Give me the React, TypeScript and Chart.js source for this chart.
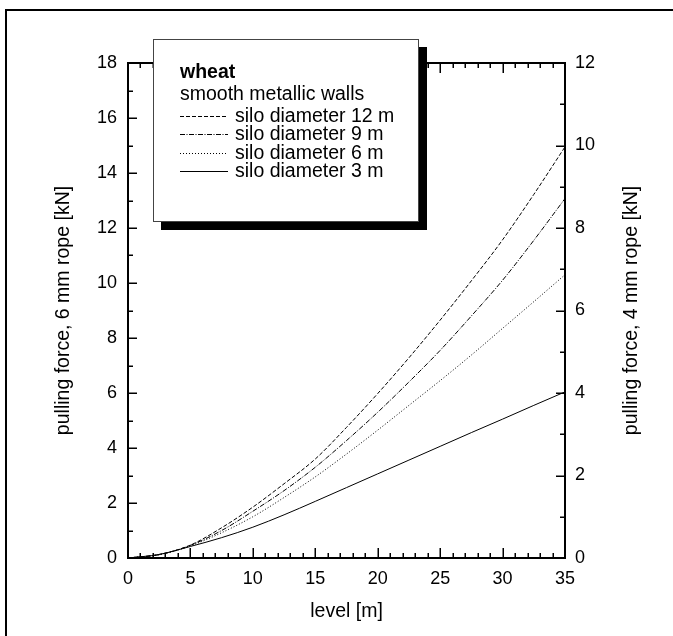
import React, { useEffect, useRef } from "react";
import { Chart, registerables } from "chart.js";

Chart.register(...registerables);

// ---- data ----
const levels = [0, 2.5, 5, 7.5, 10, 12.5, 15, 17.5, 20, 22.5, 25, 27.5, 30, 32.5, 35];
const silo12 = [0, 0.13, 0.47, 1.1, 1.85, 2.7, 3.6, 4.75, 5.98, 7.28, 8.65, 10.08, 11.57, 13.22, 14.95];
const silo9 = [0, 0.12, 0.46, 1.0, 1.7, 2.45, 3.3, 4.27, 5.3, 6.4, 7.55, 8.8, 10.1, 11.55, 13.07];
const silo6 = [0, 0.12, 0.44, 0.92, 1.5, 2.2, 2.95, 3.78, 4.65, 5.55, 6.45, 7.38, 8.35, 9.32, 10.3];
const silo3 = [0, 0.13, 0.42, 0.74, 1.12, 1.57, 2.06, 2.56, 3.06, 3.56, 4.06, 4.56, 5.05, 5.55, 6.04];

const seriesLabels = ["silo diameter 12 m", "silo diameter 9 m", "silo diameter 6 m", "silo diameter 3 m"];
const seriesValues = [silo12, silo9, silo6, silo3];
const seriesDash = [[4, 2], [5, 1.5, 1, 1.5], [1, 2], []];

const legendTitle = "wheat";
const legendSubtitle = "smooth metallic walls";
const xTitle = "level [m]";
const yTitle = "pulling force, 6 mm rope [kN]";
const y2Title = "pulling force, 4 mm rope [kN]";

const FONT = "'Liberation Sans', Arial, Helvetica, sans-serif";
const TEXT_SIZE = 19.5;

const decorPlugin = {
  id: "decor",
  afterDraw(chart: any) {
    const ctx = chart.ctx as CanvasRenderingContext2D;
    const { left, right, top, bottom } = chart.chartArea;
    const sx = chart.scales.x;
    const sy = chart.scales.y;
    const sy2 = chart.scales.y2;
    ctx.save();
    ctx.strokeStyle = "#000";
    ctx.fillStyle = "#000";
    ctx.lineWidth = 1.5;
    // inward ticks
    ctx.beginPath();
    for (let v = sx.min; v <= sx.max + 1e-9; v += 1) {
      const px = Math.round(sx.getPixelForValue(v)) + 0.25;
      const len = v % 5 === 0 ? 10 : 5;
      ctx.moveTo(px, bottom);
      ctx.lineTo(px, bottom - len);
      ctx.moveTo(px, top);
      ctx.lineTo(px, top + len);
    }
    for (let v = sy.min; v <= sy.max + 1e-9; v += 1) {
      const py = Math.round(sy.getPixelForValue(v)) + 0.25;
      const len = v % 2 === 0 ? 9 : 5;
      ctx.moveTo(left, py);
      ctx.lineTo(left + len, py);
    }
    for (let v = sy2.min; v <= sy2.max + 1e-9; v += 1) {
      const py = Math.round(sy2.getPixelForValue(v)) + 0.25;
      const len = v % 2 === 0 ? 9 : 5;
      ctx.moveTo(right, py);
      ctx.lineTo(right - len, py);
    }
    ctx.stroke();

    // right axis title (reads bottom to top)
    ctx.save();
    ctx.translate(632, (top + bottom) / 2);
    ctx.rotate(-Math.PI / 2);
    ctx.font = `${TEXT_SIZE}px ${FONT}`;
    ctx.textAlign = "center";
    ctx.textBaseline = "middle";
    ctx.fillText(y2Title, 0, 0);
    ctx.restore();

    // legend box with shadow
    const bx = 153, by = 39, bw = 265, bh = 182, sh = 8;
    ctx.fillStyle = "#000";
    ctx.fillRect(bx + sh, by + sh, bw + 1, bh + 1);
    ctx.fillStyle = "#fff";
    ctx.fillRect(bx, by, bw, bh);
    ctx.strokeStyle = "#444";
    ctx.lineWidth = 1;
    ctx.strokeRect(bx + 0.5, by + 0.5, bw, bh);

    ctx.fillStyle = "#000";
    ctx.textAlign = "left";
    ctx.textBaseline = "alphabetic";
    ctx.font = `bold ${TEXT_SIZE}px ${FONT}`;
    ctx.fillText(legendTitle, 180, 78);
    ctx.font = `${TEXT_SIZE}px ${FONT}`;
    ctx.fillText(legendSubtitle, 180, 100);
    const rows = [121.5, 140, 158.5, 177];
    chart.data.datasets.forEach((ds: any, i: number) => {
      const yb = rows[i];
      ctx.save();
      ctx.strokeStyle = "#000";
      ctx.lineWidth = 1;
      ctx.setLineDash(ds.borderDash || []);
      ctx.beginPath();
      ctx.moveTo(180, Math.round(yb - 6) + 0.5);
      ctx.lineTo(228, Math.round(yb - 6) + 0.5);
      ctx.stroke();
      ctx.restore();
      ctx.fillText(ds.label, 235, yb);
    });

    // outer frame
    ctx.strokeStyle = "#000";
    ctx.lineWidth = 2;
    ctx.setLineDash([]);
    ctx.strokeRect(6, 10, 700, 700);
    ctx.restore();
  },
};

export default function App() {
  const ref = useRef<HTMLCanvasElement | null>(null);
  useEffect(() => {
    if (!ref.current) return;
    const tickFont = { family: FONT, size: 18 };
    const noGrid = { display: false, drawTicks: false };
    const chart = new Chart(ref.current, {
      type: "line",
      data: {
        datasets: seriesValues.map((vals, i) => ({
          label: seriesLabels[i],
          data: levels.map((x, j) => ({ x, y: vals[j] })),
          borderColor: "#000",
          borderWidth: 1,
          borderDash: seriesDash[i],
          pointRadius: 0,
          fill: false,
          cubicInterpolationMode: "monotone" as const,
          yAxisID: "y",
          xAxisID: "x",
        })),
      },
      options: {
        animation: false,
        responsive: false,
        maintainAspectRatio: false,
        layout: { padding: 0 },
        plugins: { legend: { display: false }, tooltip: { enabled: false } },
        scales: {
          x: {
            type: "linear",
            position: "bottom",
            min: 0,
            max: 35,
            afterFit: (s: any) => { s.height = 78; },
            grid: noGrid,
            border: { display: true, color: "#000", width: 2 },
            ticks: { stepSize: 5, color: "#000", font: tickFont, padding: 10, maxRotation: 0 },
            title: { display: true, text: xTitle, color: "#000", font: { family: FONT, size: TEXT_SIZE }, padding: { top: 0, bottom: 12.6 } },
          },
          x2: {
            type: "linear",
            position: "top",
            min: 0,
            max: 35,
            afterFit: (s: any) => { s.height = 63; },
            grid: noGrid,
            border: { display: true, color: "#000", width: 2 },
            ticks: { display: false },
          },
          y: {
            type: "linear",
            position: "left",
            min: 0,
            max: 18,
            afterFit: (s: any) => { s.width = 128; },
            grid: noGrid,
            border: { display: true, color: "#000", width: 2 },
            ticks: { stepSize: 2, color: "#000", font: tickFont, padding: 11 },
            title: { display: true, text: yTitle, color: "#000", font: { family: FONT, size: TEXT_SIZE }, padding: { top: 51.6, bottom: 0 } },
          },
          y2: {
            type: "linear",
            position: "right",
            min: 0,
            max: 12,
            afterFit: (s: any) => { s.width = 108; },
            grid: noGrid,
            border: { display: true, color: "#000", width: 2 },
            ticks: { stepSize: 2, color: "#000", font: tickFont, padding: 10 },
          },
        },
      } as any,
      plugins: [decorPlugin],
    });
    return () => chart.destroy();
  }, []);
  return (
    <div style={{ position: "fixed", left: 0, top: 0, width: 673, height: 636, background: "#fff" }}>
      <canvas ref={ref} width={673} height={636} style={{ display: "block", width: 673, height: 636 }} />
    </div>
  );
}
